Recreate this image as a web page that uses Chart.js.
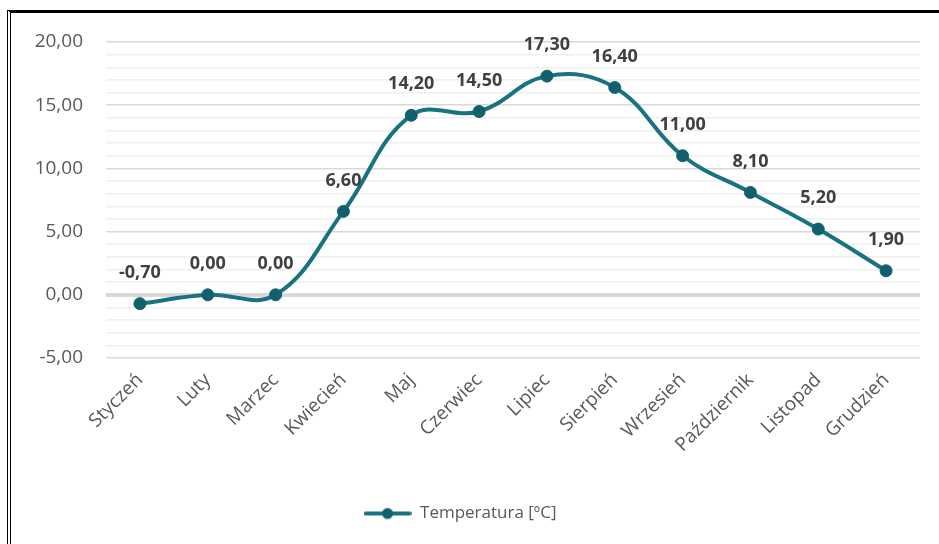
<!DOCTYPE html>
<html>
<head>
<meta charset="utf-8">
<script src="https://cdn.jsdelivr.net/npm/chart.js@4.4.1/dist/chart.umd.min.js"></script>
<style>
  html, body { margin: 0; padding: 0; background: #fff; }
  #wrap { position: relative; width: 939px; height: 544px; }
  #frame { position: absolute; left: 7px; top: 10px; width: 932px; height: 534px;
           border-top: 3px solid #000; border-left: 4px double #000; box-sizing: border-box; pointer-events: none; }
</style>
</head>
<body>
<div id="wrap">
  <canvas id="chart1" width="939" height="544"></canvas>
  <div id="frame"></div>
</div>
<script>
const months = ['Styczeń', 'Luty', 'Marzec', 'Kwiecień', 'Maj', 'Czerwiec', 'Lipiec', 'Sierpień', 'Wrzesień', 'Październik', 'Listopad', 'Grudzień'];
const temps = [-0.7, 0, 0, 6.6, 14.2, 14.5, 17.3, 16.4, 11.0, 8.1, 5.2, 1.9];
const yMajor = [-5, 0, 5, 10, 15, 20];

const lineColor = '#18727f';
const pointColor = '#12606e';

function plFormat(v) {
  return v.toFixed(2).replace('.', ',');
}

// legend icon: line with a dot in the middle
const icon = document.createElement('canvas');
icon.width = 48; icon.height = 14;
(function() {
  const c = icon.getContext('2d');
  c.strokeStyle = lineColor;
  c.lineWidth = 4;
  c.lineCap = 'round';
  c.beginPath(); c.moveTo(2, 7); c.lineTo(46, 7); c.stroke();
  c.fillStyle = pointColor;
  c.beginPath(); c.arc(24, 7, 5.5, 0, Math.PI * 2); c.fill();
})();

const valueLabels = {
  id: 'valueLabels',
  afterDatasetsDraw(chart) {
    const ctx = chart.ctx;
    const meta = chart.getDatasetMeta(0);
    ctx.save();
    ctx.font = 'bold 18px "Open Sans"';
    ctx.fillStyle = '#404040';
    ctx.textAlign = 'center';
    ctx.textBaseline = 'middle';
    meta.data.forEach((pt, i) => {
      ctx.fillText(plFormat(temps[i]), pt.x, pt.y - 31);
    });
    ctx.restore();
  }
};

const config1 = {
  type: 'line',
  data: {
    labels: months,
    datasets: [{
      label: 'Temperatura [ºC]',
      data: temps,
      borderColor: lineColor,
      borderWidth: 4,
      tension: 0.4,
      pointRadius: 6,
      pointBackgroundColor: pointColor,
      pointBorderColor: pointColor,
      pointBorderWidth: 1,
    }]
  },
  options: {
    responsive: false,
    animation: false,
    layout: { padding: { left: 0, right: 19, top: 42, bottom: 12 } },
    scales: {
      x: {
        offset: true,
        grid: { display: false, drawTicks: false },
        border: { display: false },
        ticks: {
          minRotation: 45,
          maxRotation: 45,
          padding: 11,
          color: '#595959',
          font: { family: 'Open Sans', size: 19 },
        },
        afterFit: axis => { axis.height = 135; }
      },
      y: {
        min: -5,
        max: 20,
        border: { display: false },
        grid: {
          drawTicks: false,
          color: c => c.tick.value === 0 ? '#d9d9d9' : (yMajor.includes(c.tick.value) ? '#d9d9d9' : '#efefef'),
          lineWidth: c => c.tick.value === 0 ? 4 : 1.5,
        },
        ticks: {
          stepSize: 1,
          autoSkip: false,
          padding: 23,
          color: '#595959',
          font: { family: 'Open Sans', size: 19 },
          callback: v => yMajor.includes(v) ? plFormat(v) : ''
        },
        afterFit: axis => { axis.width = 106; }
      }
    },
    plugins: {
      legend: {
        position: 'bottom',
        labels: {
          usePointStyle: true,
          pointStyle: icon,
          pointStyleWidth: 48,
          color: '#595959',
          font: { family: 'Open Sans', size: 17 },
          padding: 12,
        }
      },
      tooltip: { enabled: false }
    }
  },
  plugins: [valueLabels]
};

const chart1 = new Chart(document.getElementById('chart1'), config1);
</script>
</body>
</html>
